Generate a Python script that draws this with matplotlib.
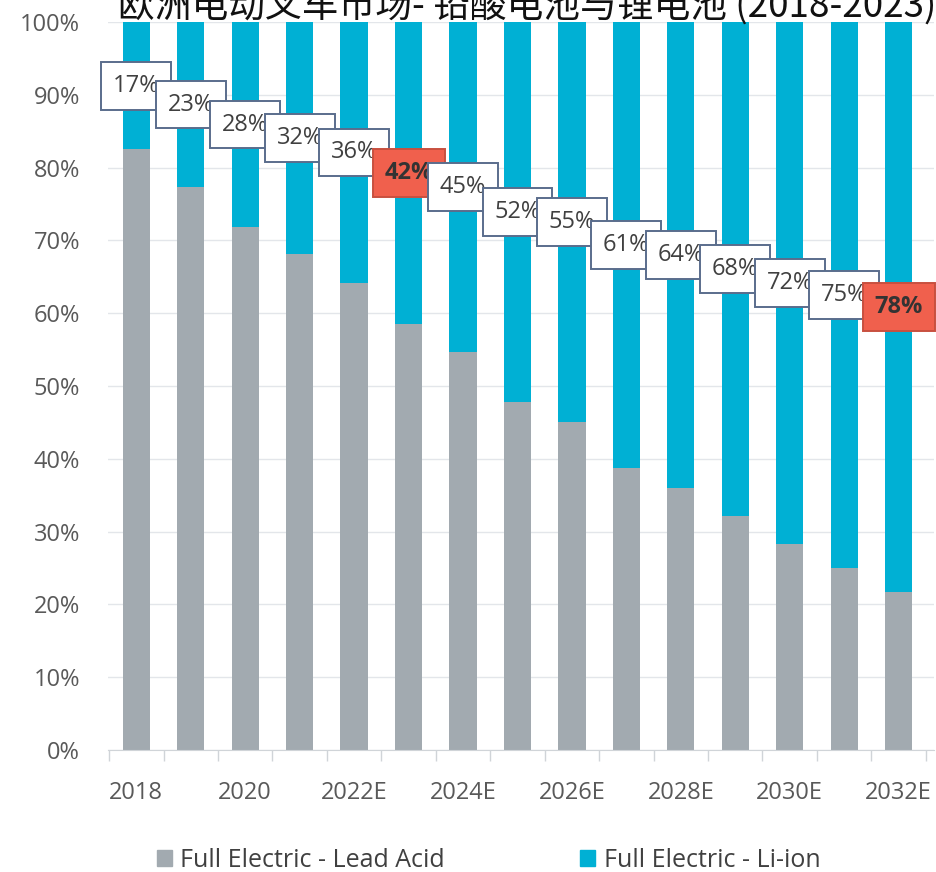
import numpy as np
import matplotlib
matplotlib.use("Agg")
import matplotlib.pyplot as plt
from matplotlib.patches import Patch

plt.rcParams["font.family"] = ["Open Sans", "Noto Sans CJK SC", "DejaVu Sans"]

# データ
years = ["2018", "2019", "2020", "2021", "2022E", "2023E", "2024E", "2025E",
         "2026E", "2027E", "2028E", "2029E", "2030E", "2031E", "2032E"]
lead_acid = [82.5, 77.3, 71.8, 68.1, 64.2, 58.5, 54.7, 47.8, 45.0, 38.8, 36.0, 32.1, 28.3, 25.0, 21.7]
li_ion_label = [17, 23, 28, 32, 36, 42, 45, 52, 55, 61, 64, 68, 72, 75, 78]
highlight = ["2023E", "2032E"]
title = "欧洲电动叉车市场- 铅酸电池与锂电池 (2018-2023)"

GRAY = "#a2aab0"
BLUE = "#00b0d4"
RED = "#f0604d"
EDGE = "#5a6d8c"
TXT = "#404040"

fig = plt.figure(figsize=(9.36, 8.72), dpi=100)
ax = fig.add_axes([108 / 936, 122 / 872, (934 - 108) / 936, (750 - 22) / 872])

x = np.arange(len(years))
li_ion = [100 - v for v in lead_acid]
ax.bar(x, lead_acid, width=0.5, color=GRAY, zorder=2)
ax.bar(x, li_ion, bottom=lead_acid, width=0.5, color=BLUE, zorder=2)

# ラベル (Li-ion部分の中央)
for i, (yr, lab) in enumerate(zip(years, li_ion_label)):
    ymid = lead_acid[i] + li_ion[i] / 2
    hl = yr in highlight
    ax.text(i, ymid, "%d%%" % lab, ha="center", va="center", fontsize=17,
            color="#333333" if hl else TXT, fontweight="bold" if hl else "normal",
            zorder=10 + i,
            bbox=dict(boxstyle="square,pad=0.5", fc=RED if hl else "white",
                      ec="#c8503f" if hl else EDGE, lw=1.4))

ax.set_xlim(-0.52, 14.65)
ax.set_ylim(0, 100)
ax.set_yticks(np.arange(0, 101, 10))
ax.set_yticklabels(["%d%%" % v for v in range(0, 101, 10)])
ax.yaxis.grid(True, color="#e3e6ea", lw=1, zorder=0)
ax.tick_params(axis="y", length=0, pad=20, labelsize=17, labelcolor="#595959")

ax.set_xticks(x[::2])
ax.set_xticklabels(years[::2])
ax.set_xticks(np.arange(-0.5, 15, 1), minor=True)
ax.tick_params(axis="x", which="major", length=0, pad=22, labelsize=17, labelcolor="#595959")
ax.tick_params(axis="x", which="minor", length=8, color="#d0d4d8", width=1)

for s in ["top", "right", "left"]:
    ax.spines[s].set_visible(False)
ax.spines["bottom"].set_color("#d0d4d8")

fig.text(527 / 936, 1 - 17 / 872, title, ha="center", va="baseline", fontsize=26.5,
         family=["Noto Sans CJK SC", "DejaVu Sans"], color="#111111")

handles = [Patch(color=GRAY, label="Full Electric - Lead Acid"),
           Patch(color=BLUE, label="Full Electric - Li-ion")]
fig.legend(handles=handles, loc="center", bbox_to_anchor=(0.522, 1 - 860 / 872), ncol=2,
           frameon=False, fontsize=18, handlelength=0.6, handleheight=0.6,
           handletextpad=0.35, columnspacing=5.4, labelcolor="#404040")

plt.savefig("out.png", dpi=100)
